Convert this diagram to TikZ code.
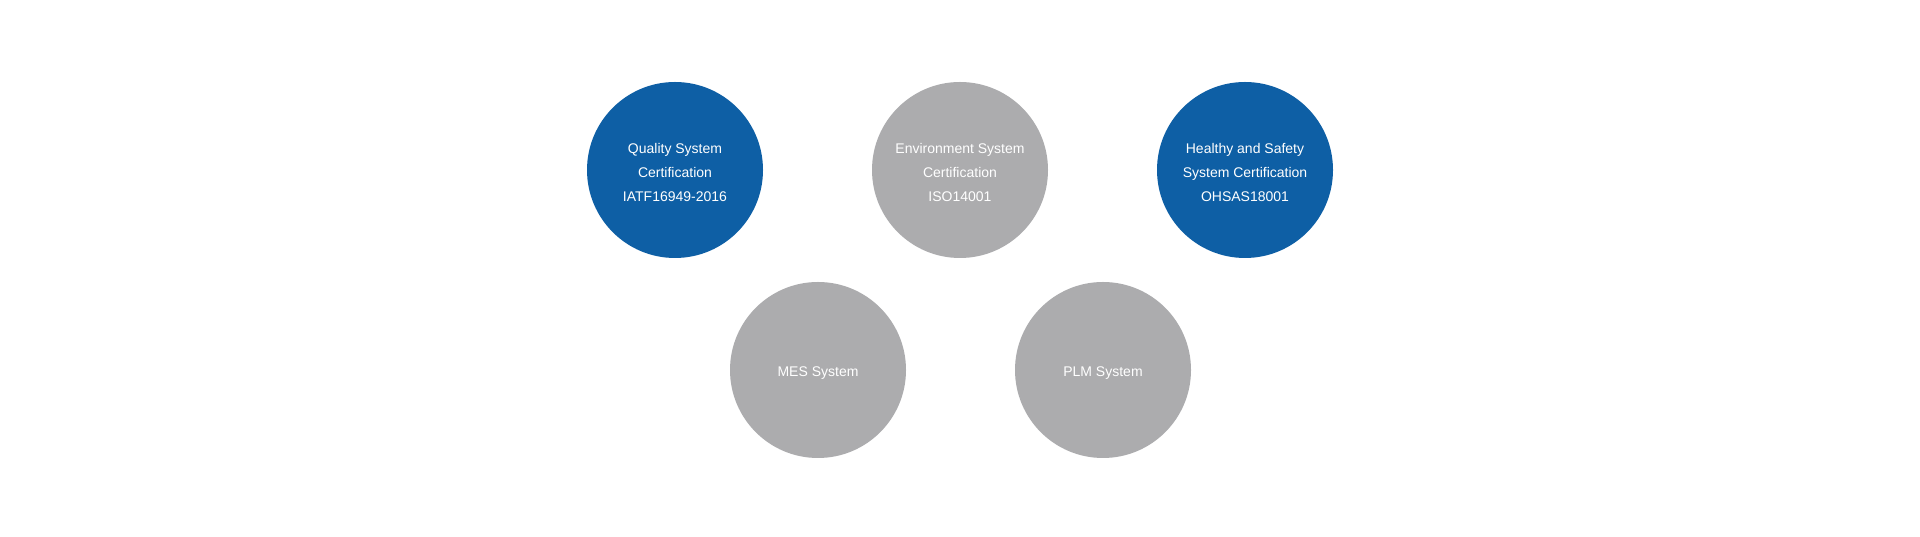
\documentclass[tikz,border=0pt]{standalone}
\usepackage{fontspec}
\setmainfont{Liberation Sans}
\definecolor{cblue}{HTML}{0E5FA5}
\definecolor{cgray}{HTML}{ACACAE}
\begin{document}
\begin{tikzpicture}[x=1pt,y=1pt,
  disc/.style={circle,minimum size=176pt,inner sep=0pt},
  bluedisc/.style={disc,fill=cblue},
  graydisc/.style={disc,fill=cgray},
  disctext/.style={text=white,align=center,inner sep=0pt,
    font=\fontsize{14}{24}\selectfont}]
\fill[white] (0,0) rectangle (1920,537);
\useasboundingbox (0,0) rectangle (1920,537);
\node[bluedisc] (q) at (675,367) {};
\node[graydisc] (e) at (960,367) {};
\node[bluedisc] (h) at (1245,367) {};
\node[graydisc] (m) at (818,167) {};
\node[graydisc] (p) at (1103,167) {};
\node[disctext] (qt) at ([yshift=-2.5]q.center) {Quality System\\Certification\\IATF16949-2016};
\node[disctext] (et) at ([yshift=-2.5]e.center) {Environment System\\Certification\\ISO14001};
\node[disctext] (ht) at ([yshift=-2.5]h.center) {Healthy and Safety\\System Certification\\OHSAS18001};
\node[disctext] (mt) at ([yshift=-3.5]m.center) {MES System};
\node[disctext] (pt) at ([yshift=-3.5]p.center) {PLM System};
\end{tikzpicture}
\end{document}
